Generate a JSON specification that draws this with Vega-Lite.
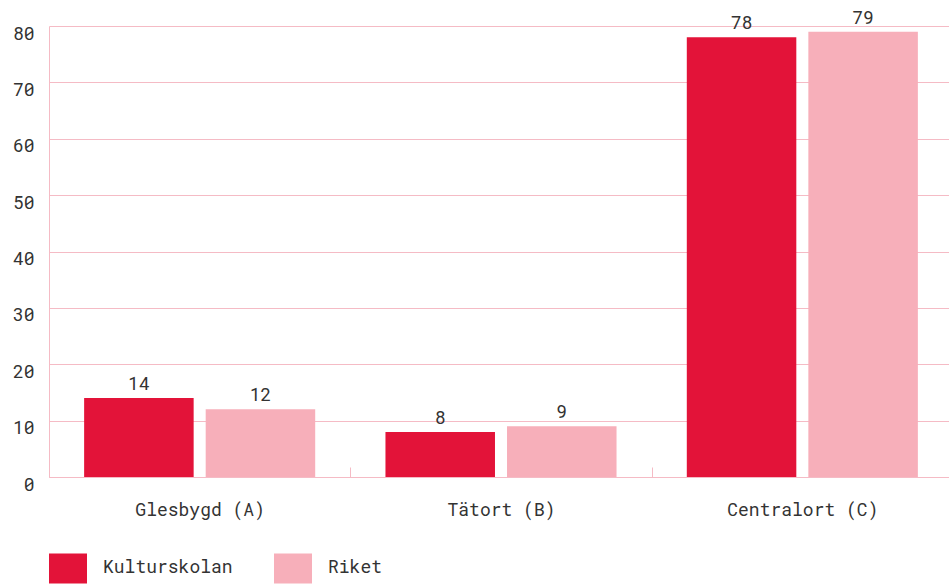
{
  "$schema": "https://vega.github.io/schema/vega-lite/v6.json",
  "width": 904,
  "height": 451,
  "autosize": "none",
  "padding": {"left": 49, "top": 26, "right": 0, "bottom": 109},
  "background": "white",
  "config": {
    "font": "Roboto Mono, DejaVu Sans Mono",
    "view": {"stroke": null}
  },
  "data": {
    "values": [
      {"omrade": "Glesbygd (A)", "serie": "Kulturskolan", "varde": 14},
      {"omrade": "Glesbygd (A)", "serie": "Riket", "varde": 12},
      {"omrade": "Tätort (B)", "serie": "Kulturskolan", "varde": 8},
      {"omrade": "Tätort (B)", "serie": "Riket", "varde": 9},
      {"omrade": "Centralort (C)", "serie": "Kulturskolan", "varde": 78},
      {"omrade": "Centralort (C)", "serie": "Riket", "varde": 79}
    ]
  },
  "encoding": {
    "x": {
      "field": "omrade",
      "type": "nominal",
      "sort": ["Glesbygd (A)", "Tätort (B)", "Centralort (C)"],
      "scale": {"paddingInner": 0, "paddingOuter": 0},
      "axis": {
        "title": null,
        "labelAngle": 0,
        "labelFontSize": 18,
        "labelColor": "#333333",
        "labelPadding": 34,
        "domainColor": "#F5BBC5",
        "tickColor": "#F5BBC5",
        "tickBand": "extent",
        "tickSize": -10
      }
    },
    "xOffset": {
      "field": "serie",
      "sort": ["Kulturskolan", "Riket"],
      "scale": {"paddingInner": 0.099, "paddingOuter": 0.289}
    },
    "y": {
      "field": "varde",
      "type": "quantitative",
      "scale": {"domain": [0, 80], "nice": false},
      "axis": {
        "title": null,
        "values": [0, 10, 20, 30, 40, 50, 60, 70, 80],
        "grid": true,
        "gridColor": "#F5BBC5",
        "domainColor": "#F5BBC5",
        "tickSize": 0,
        "labelPadding": 15,
        "labelOffset": 8,
        "labelFontSize": 18,
        "labelColor": "#333333"
      }
    }
  },
  "layer": [
    {
      "mark": {"type": "bar"},
      "encoding": {
        "color": {
          "field": "serie",
          "type": "nominal",
          "scale": {"domain": ["Kulturskolan", "Riket"], "range": ["#E31339", "#F7AFBA"]},
          "legend": {
            "orient": "none",
            "legendX": 0,
            "legendY": 523,
            "direction": "horizontal",
            "title": null,
            "padding": 0,
            "symbolType": "M-1,-0.79H1V0.79H-1Z",
            "symbolSize": 1444,
            "symbolStrokeWidth": 0,
            "symbolOpacity": 1,
            "labelFontSize": 18,
            "labelColor": "#333333",
            "labelOffset": 16,
            "columnPadding": 41
          }
        }
      }
    },
    {
      "mark": {"type": "text", "baseline": "bottom", "dy": -4, "fontSize": 18, "color": "#333333"},
      "encoding": {"text": {"field": "varde", "type": "quantitative"}}
    }
  ]
}
